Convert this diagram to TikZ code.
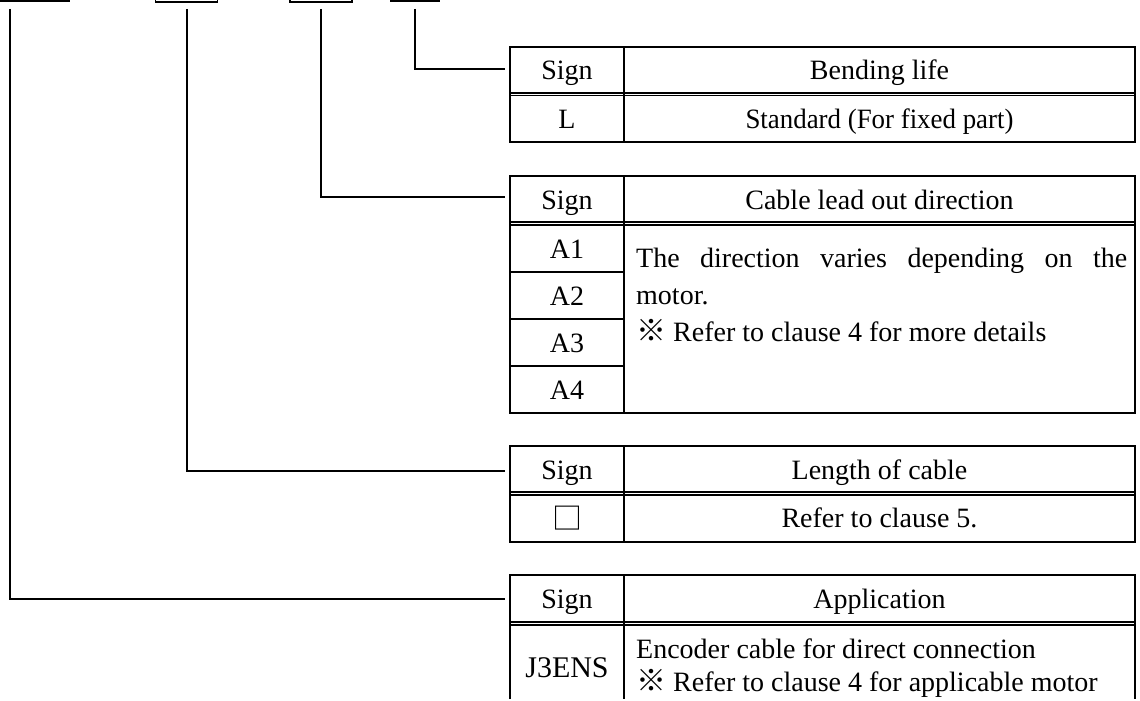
\documentclass[tikz,border=0pt]{standalone}
\usepackage{fontspec}
\setmainfont{Liberation Serif}
\newfontfamily\cjk{Noto Sans CJK JP}
\newcommand{\komemark}{{\cjk\fontsize{30}{30}\selectfont ※}}
\begin{document}
\begin{tikzpicture}[x=1pt,y=-1pt,
  every node/.style={font=\fontsize{28}{32}\selectfont, inner sep=0pt},
  tbl/.style={line width=2pt},
  dbl/.style={line width=1.2pt},
  conn/.style={line width=1.5pt},
  topbox/.style={line width=1.6pt},
  lbl/.style={anchor=base},
  txt/.style={anchor=base west}]
\useasboundingbox (0,0) rectangle (1140,701);
\clip (0,0) rectangle (1140,701);

% partial boxes at the top edge
\draw[topbox] (-5,-20) rectangle (69,0.8);
\draw[topbox] (155.5,-20) rectangle (217.5,2);
\draw[topbox] (290,-20) rectangle (352,2);
\draw[topbox] (391,-20) rectangle (439,0.8);

% ---- Table 1: Bending life
\draw[tbl] (510,47) rectangle (1135,142);
\draw[tbl] (624,47) -- (624,142);
\draw[dbl] (510,93) -- (1135,93);
\draw[dbl] (510,95.8) -- (1135,95.8);
\node[lbl] (t1s) at (567,80) {Sign};
\node[lbl] (t1h) at (879.5,80) {Bending life};
\node[lbl] (t1a) at (567,128) {L};
\node[lbl] (t1b) at (879.5,128) {\scalebox{0.96}[1]{Standard (For fixed part)}};

% ---- Table 2: Cable lead out direction
\draw[tbl] (510,176) rectangle (1135,413);
\draw[tbl] (624,176) -- (624,413);
\draw[dbl] (510,222) -- (1135,222);
\draw[dbl] (510,225) -- (1135,225);
\draw[tbl] (510,272) -- (624,272);
\draw[tbl] (510,319) -- (624,319);
\draw[tbl] (510,366) -- (624,366);
\node[lbl] (t2s) at (567,209) {Sign};
\node[lbl] (t2h) at (879.5,209) {Cable lead out direction};
\node[lbl] (a1) at (567,258) {A1};
\node[lbl] (a2) at (567,305) {A2};
\node[lbl] (a3) at (567,352) {A3};
\node[lbl] (a4) at (567,399) {A4};
\node[txt] (d1) at (636,267) {\makebox[491pt][s]{The direction varies depending on the}};
\node[txt] (d2) at (636,304) {motor.};
\node[txt] (d3) at (636,341) {\komemark\hspace{7pt}Refer to clause 4 for more details};

% ---- Table 3: Length of cable
\draw[tbl] (510,446) rectangle (1135,542);
\draw[tbl] (624,446) -- (624,542);
\draw[dbl] (510,492) -- (1135,492);
\draw[dbl] (510,495) -- (1135,495);
\node[lbl] (t3s) at (567,479) {Sign};
\node[lbl] (t3h) at (879.5,479) {Length of cable};
\node[anchor=center] (t3a) at (567,518) {{\cjk\fontsize{30}{30}\selectfont □}};
\node[lbl] (t3b) at (879.5,527) {Refer to clause 5.};

% ---- Table 4: Application
\draw[tbl] (510,699) -- (510,575) -- (1135,575) -- (1135,699);
\draw[tbl] (624,575) -- (624,699);
\draw[dbl] (510,622) -- (1135,622);
\draw[dbl] (510,625) -- (1135,625);
\node[lbl] (t4s) at (567,608) {Sign};
\node[lbl] (t4h) at (879.5,608) {Application};
\node[lbl] (t4a) at (567,677) {\fontsize{30}{34}\selectfont J3ENS};
\node[txt] (e1) at (636,658) {Encoder cable for direct connection};
\node[txt] (e2) at (636,691) {\komemark\hspace{7pt}Refer to clause 4 for applicable motor};

% ---- connectors
\coordinate (s1) at (10,9);
\coordinate (s2) at (187,9);
\coordinate (s3) at (321,9);
\coordinate (s4) at (415,9);
\coordinate (c1) at (505,599);
\coordinate (c2) at (505,471);
\coordinate (c3) at (505,197);
\coordinate (c4) at (505,69);
\draw[conn] (s1) |- (c1);
\draw[conn] (s2) |- (c2);
\draw[conn] (s3) |- (c3);
\draw[conn] (s4) |- (c4);
\end{tikzpicture}
\end{document}
